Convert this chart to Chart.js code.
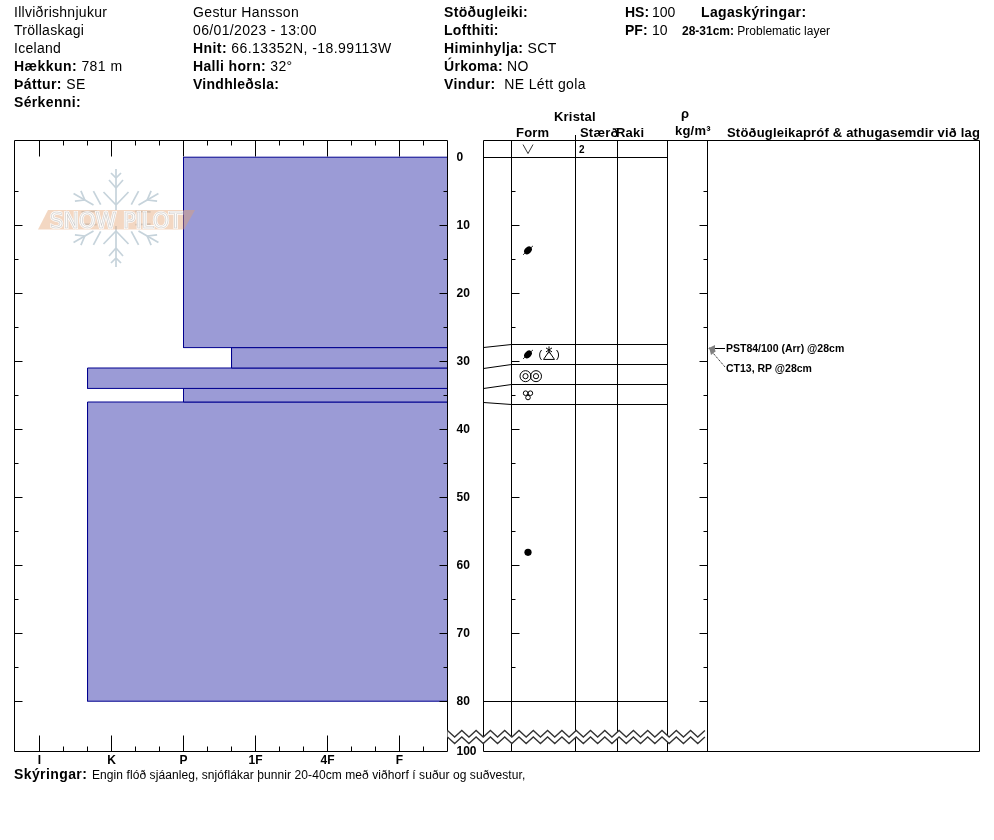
<!DOCTYPE html>
<html><head><meta charset="utf-8">
<style>
html,body{margin:0;padding:0;background:#fff;width:994px;height:840px;overflow:hidden}
#c{position:absolute;left:0;top:0}
.t{position:absolute;white-space:nowrap;line-height:16px;color:#000;font-family:"Liberation Sans",Arial,sans-serif}
b{font-weight:bold}
</style></head><body>
<canvas id="c" width="994" height="840"></canvas>
<script src="https://cdn.jsdelivr.net/npm/chart.js@4"></script>
<script>
// Data
const hardnessLabels = ['I','K','P','1F','4F','F'];
const layerTop    = [0, 28, 31, 34, 36];
const layerBottom = [28, 31, 34, 36, 80];
const layerHard   = [2, 2.667, 0.667, 2, 0.667];   // hardness rank: I=0 ... F=5
const hardRight   = 5.667;
const depthTicks  = [0,5,10,15,20,25,30,35,40,45,50,55,60,65,70,75,80];
const snowDepthLabel = '100';
const tableDepthsTrue = [28, 31, 34, 36, 80];
const tableDepthsDrawn = [27.5, 30.47, 33.4, 36.4, 80];
const grainDepths = {surface:-1.2, ball1:13.7, ball2:29, rings:32.2, trefoil:35, dot:58.1};

const headerRows = [
 [14,12,'Illviðrishnjukur',.28],[14,30,'Tröllaskagi',.28],[14,48,'Iceland',.28],
 [14,66,'<b>Hækkun:</b> 781 m',.45],[14,84,'<b>Þáttur:</b> SE',.4],[14,102,'<b>Sérkenni:</b>',.35],
 [193,12,'Gestur Hansson',.35],[193,30,'06/01/2023 - 13:00',.35],[193,48,'<b>Hnit:</b> 66.13352N, -18.99113W',.42],
 [193,66,'<b>Halli horn:</b> 32°',.35],[193,84,'<b>Vindhleðsla:</b>',.27],
 [444,12,'<b>Stöðugleiki:</b>',.33],[444,30,'<b>Lofthiti:</b>',.3],[444,48,'<b>Himinhylja:</b> SCT',.35],
 [444,66,'<b>Úrkoma:</b> NO',.3],[444,84,'<b>Vindur:</b>&nbsp; NE Létt gola',.4],
 [625,12,'<b>HS:</b>',0],[652,12,'100',0],[625,30,'<b>PF:</b>',0],[652,30,'10',0],[701,12,'<b>Lagaskýringar:</b>',.36]
];
const smallRows = [
 [682,31,'<b>28-31cm:</b> Problematic layer',12,0],
 [554,117,'<b>Kristal</b>',13,.2],[516,133,'<b>Form</b>',13,.2],[580,133,'<b>Stærð</b>',13,.2],[616,133,'<b>Raki</b>',13,.2],
 [681,114,'<b>ρ</b>',13,0],[675,131,'<b>kg/m³</b>',13,.2],
 [727,133,'<b>Stöðugleikapróf &amp; athugasemdir við lag</b>',13,.2],
 [579,150,'<b>2</b>',10,0],
 [726,348,'<b>PST84/100 (Arr) @28cm</b>',10.5,0],[726,368,'<b>CT13, RP @28cm</b>',10.5,0],
 [14,774,'<b>Skýringar:</b>',14,.4],
 [92,775,'Engin flóð sjáanleg, snjóflákar þunnir 20-40cm með viðhorf í suður og suðvestur,',12,.08],
 [538.5,354,'(',11,0],[556,354,')',11,0]
];
function addText(x,y,html,size,sp){
  const d=document.createElement('div');d.className='t';d.innerHTML=html;
  d.style.left=x+'px';d.style.top=(y-8)+'px';d.style.fontSize=size+'px';
  if(sp)d.style.letterSpacing=sp+'px';document.body.appendChild(d);
}
headerRows.forEach(r=>addText(r[0],r[1],r[2],14,r[3]));
smallRows.forEach(r=>addText(r[0],r[1],r[2],r[3],r[4]));

const snap=v=>Math.round(v-0.5)+0.5;
function seg(ctx,x1,y1,x2,y2){ctx.beginPath();ctx.moveTo(x1,y1);ctx.lineTo(x2,y2);ctx.stroke();}

const datasets = layerTop.map((t,i)=>({
  data:[{x:layerHard[i],y:t},{x:layerHard[i],y:layerBottom[i]},{x:hardRight,y:layerBottom[i]},{x:hardRight,y:t},{x:layerHard[i],y:t}],
  showLine:true,fill:'shape',tension:0,pointRadius:0,borderWidth:1,
  borderColor:'#00008f',backgroundColor:'#9b9bd6'
}));

const snowProfile={id:'snowProfile',
 afterDatasetsDraw(chart){
  const ctx=chart.ctx,X=chart.scales.x,Y=chart.scales.y;
  const L=14.5,R=447.5,T=140.5,B=751.5;
  ctx.save();ctx.strokeStyle='#000';ctx.lineWidth=1;
  // profile frame
  seg(ctx,L,T,R,T);seg(ctx,L,B,R,B);seg(ctx,L,T,L,B);seg(ctx,R,T,R,B);
  // hardness ticks
  X.ticks.forEach((k,i)=>{
    const x=snap(X.getPixelForValue(k.value));const maj=k.label!=='';
    if(x<20||x>R-1)return;
    seg(ctx,x,T,x,T+(maj?16:5));seg(ctx,x,B,x,B-(maj?16:5));
  });
  // column rules
  const cols=[483.5,511.5,575.5,617.5,667.5,707.5,979.5];
  seg(ctx,cols[0],T,cols[6],T);seg(ctx,cols[0],B,cols[6],B);
  cols.forEach(x=>seg(ctx,x,T,x,B));
  seg(ctx,575.5,135,575.5,T);
  seg(ctx,cols[0],157.5,cols[4],157.5);
  tableDepthsDrawn.forEach((d,i)=>{
    const yd=snap(Y.getPixelForValue(d)),yt=snap(Y.getPixelForValue(tableDepthsTrue[i]));
    seg(ctx,cols[1],yd,cols[4],yd);
    seg(ctx,cols[0],yt,cols[1],yd);
  });
  // depth ticks
  depthTicks.forEach(d=>{
    const y=snap(Y.getPixelForValue(d));const n=d%10===0?8:4;
    if(d>0){
      seg(ctx,L,y,L+n,y);seg(ctx,R,y,R-n,y);
      seg(ctx,cols[1],y,cols[1]+n,y);seg(ctx,cols[5],y,cols[5]-n,y);
    }
  });
  // truncation zigzag
  const zx=[];for(let x=447.5,up=true;x<=708;x+=7.15,up=!up)zx.push([Math.min(x,707.5),up]);
  ctx.fillStyle='#fff';ctx.beginPath();
  zx.forEach((p,i)=>{const y=p[1]?730.5:737;i?ctx.lineTo(p[0],y):ctx.moveTo(p[0],y);});
  [...zx].reverse().forEach(p=>ctx.lineTo(p[0],p[1]?737:743.5));ctx.closePath();ctx.fill();
  ctx.strokeStyle='#333';ctx.lineWidth=1.3;
  [[730.5,737],[737,743.5]].forEach(a=>{ctx.beginPath();zx.forEach((p,i)=>{const y=p[1]?a[0]:a[1];i?ctx.lineTo(p[0],y):ctx.moveTo(p[0],y);});ctx.stroke();});
  // grain symbols
  ctx.strokeStyle='#000';ctx.lineWidth=1;ctx.fillStyle='#000';
  const gx=528,gy=k=>Y.getPixelForValue(grainDepths[k]);
  ctx.lineWidth=0.8;ctx.beginPath();ctx.moveTo(gx-5,gy('surface')-4.5);ctx.lineTo(gx,gy('surface')+4.5);ctx.lineTo(gx+5,gy('surface')-4.5);ctx.stroke();
  const ball=y=>{ctx.beginPath();ctx.ellipse(gx,y,4.4,3.2,-Math.PI/4,0,7);ctx.fill();ctx.lineWidth=.8;seg(ctx,gx-5,y+4.5,gx+5,y-4.5);};
  ball(gy('ball1'));ball(gy('ball2'));
  ctx.beginPath();ctx.arc(gx,gy('dot'),3.6,0,7);ctx.fill();
  ctx.lineWidth=1;
  const ry=gy('rings');
  [525.5,536].forEach(x=>{ctx.beginPath();ctx.arc(x,ry,5.5,0,7);ctx.stroke();ctx.beginPath();ctx.arc(x,ry,2.6,0,7);ctx.stroke();});
  const ty=gy('trefoil');
  [[-2.4,-2],[2.4,-2],[0,2.3]].forEach(o=>{ctx.beginPath();ctx.arc(gx+o[0],ty+o[1],2.3,0,7);ctx.stroke();});
  // bracketed facet-over-star glyph
  const sx=549,sy=gy('ball2');
  ctx.beginPath();ctx.moveTo(sx-5.5,sy+5);ctx.lineTo(sx+5.5,sy+5);ctx.lineTo(sx,sy-3);ctx.closePath();ctx.stroke();
  seg(ctx,sx,sy-8,sx,sy-1);seg(ctx,sx-3,sy-6.5,sx+3,sy-2.5);seg(ctx,sx+3,sy-6.5,sx-3,sy-2.5);
  // stability test arrows
  ctx.strokeStyle='#000';seg(ctx,725,348.5,712,348.5);
  ctx.setLineDash([1,1]);seg(ctx,725,367,713,353);ctx.setLineDash([]);
  ctx.fillStyle='#808080';
  ctx.beginPath();ctx.moveTo(708,348.5);ctx.lineTo(715,345);ctx.lineTo(715,352);ctx.closePath();ctx.fill();
  ctx.beginPath();ctx.moveTo(709,347);ctx.lineTo(716,351);ctx.lineTo(711,355);ctx.closePath();ctx.fill();
  // watermark
  const cx=116,cy=218;
  ctx.strokeStyle='#c6d3db';ctx.lineWidth=1.7;
  for(let a=0;a<6;a++){
    ctx.save();ctx.translate(cx,cy);ctx.rotate(a*Math.PI/3);
    if(a%3===0){
      seg(ctx,0,-8,0,-49);
      [[-40,5,-45],[-30,7,-38],[-13,12.5,-26]].forEach(b=>{seg(ctx,0,b[0],-b[1],b[2]);seg(ctx,0,b[0],b[1],b[2]);});
    } else {
      seg(ctx,0,-26,0,-49);
      seg(ctx,0,-36,-6,-44);seg(ctx,0,-36,6,-44);
      seg(ctx,-4,-20,-12,-33);seg(ctx,4,-20,12,-33);
    }
    ctx.restore();
  }
  ctx.fillStyle='rgba(226,160,110,0.42)';
  ctx.beginPath();ctx.moveTo(38,229.5);ctx.lineTo(48,210);ctx.lineTo(195,210);ctx.lineTo(184,229.5);ctx.closePath();ctx.fill();
  ctx.save();ctx.translate(50,227.5);
  ctx.font='21px "DejaVu Sans"';ctx.textBaseline='alphabetic';ctx.textAlign='left';
  ctx.lineJoin='miter';ctx.strokeStyle='rgba(255,255,255,.92)';ctx.lineWidth=2.2;ctx.strokeText('SNOW PILOT',0,0);
  ctx.strokeStyle='rgba(195,195,195,.85)';ctx.lineWidth=.6;ctx.strokeText('SNOW PILOT',0,0);
  ctx.restore();
  ctx.restore();
 }};

new Chart(document.getElementById('c'),{
 type:'scatter',
 data:{datasets},
 plugins:[snowProfile],
 options:{
  responsive:false,animation:false,devicePixelRatio:1,
  layout:{padding:{left:15.5,top:140.2,right:506.5,bottom:68.8}},
  plugins:{legend:{display:false},tooltip:{enabled:false},title:{display:false}},
  elements:{line:{borderJoinStyle:'miter'}},
  scales:{
   x:{type:'linear',position:'bottom',min:-1/3,max:17/3,
      grid:{display:false,drawTicks:false},border:{display:false},
      afterFit:s=>{s.height=20},
      afterBuildTicks:s=>{const a=[];for(let i=-1;i<=17;i++)a.push({value:i/3});s.ticks=a;},
      ticks:{autoSkip:false,maxRotation:0,padding:2,color:'#000',font:{family:'"Liberation Sans"',size:12,weight:'bold'},
        callback:v=>{const r=Math.round(v*3);return r%3===0&&hardnessLabels[r/3]!==undefined?hardnessLabels[r/3]:'';}}},
   y:{type:'linear',position:'right',reverse:true,min:-2.5,max:87.35,
      grid:{display:false,drawTicks:false},border:{display:false},
      afterFit:s=>{s.width=40},
      afterBuildTicks:s=>{s.ticks=depthTicks.map(v=>({value:v})).concat([{value:87.35}]);},
      ticks:{autoSkip:false,padding:9,color:'#000',crossAlign:'near',font:{family:'"Liberation Sans"',size:12,weight:'bold'},
        callback:v=>v>85?snowDepthLabel:(v%10===0?String(v):'')}}
  }
 }
});
</script>
</body></html>
